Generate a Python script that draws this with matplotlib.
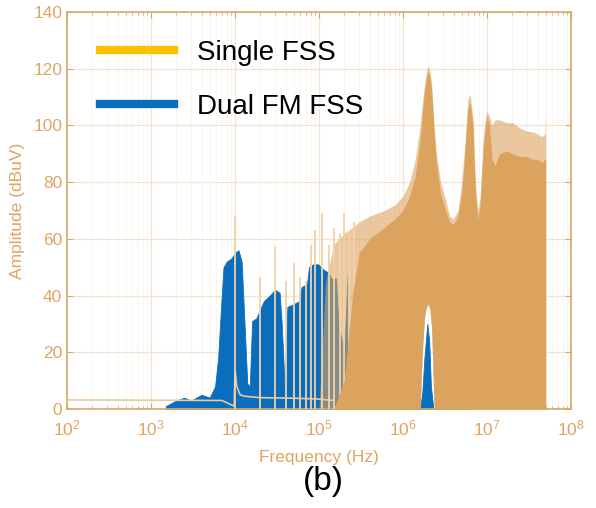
import matplotlib
matplotlib.use("Agg")
import matplotlib.pyplot as plt
from matplotlib.lines import Line2D
from matplotlib.ticker import FixedLocator, NullFormatter
import numpy as np

plt.rcParams['font.family'] = ['Liberation Sans', 'DejaVu Sans']

# ---- data ----
# Dual FM FSS, upper envelope of the spectrum
blue_freq = [1.5e3, 2e3, 2.5e3, 3e3, 4e3, 5e3, 5.8e3, 6.3e3, 6.8e3, 7.3e3,
             8e3, 9e3, 1.0e4, 1.1e4, 1.2e4, 1.3e4, 1.4e4, 1.5e4, 1.6e4, 1.8e4,
             2.2e4, 2.6e4, 3.0e4, 3.4e4, 3.6e4, 3.9e4, 4.2e4, 5.0e4, 5.8e4, 6.2e4,
             7.2e4, 7.6e4, 8.5e4, 9.8e4, 1.15e5, 1.3e5, 1.4e5, 1.6e5, 1.7e5, 2.0e5,
             2.2e5, 2.3e5, 2.6e5, 3.0e5, 3.3e5,
             1.6e6, 1.7e6, 1.8e6, 1.95e6, 2.05e6, 2.15e6, 2.3e6,
             5.8e6, 5.9e6, 6.0e6]
blue_amp = [1, 3, 4, 3, 5, 4, 8, 18, 35, 50,
            52, 53, 55, 56, 52, 30, 9, 8, 31, 32,
            38, 40, 42, 41, 30, 8, 36, 37, 38, 43,
            44, 50, 51, 51, 49, 48, 46, 46, 30, 20,
            48, 10, 5, 2, 0,
            0, 6, 18, 30, 24, 8, 0,
            0, 10, 0]

# Single FSS, low-frequency floor line
tan_floor_freq = [1e2, 7e3, 9e3, 9.8e3, 1.0e4, 1.05e4, 1.15e4, 1.3e4, 2e4, 5e4, 1e5, 1.5e5]
tan_floor_amp = [3.2, 3.0, 1.5, 1.0, 14, 8, 5, 4.5, 4, 3.8, 3.5, 3]

# Single FSS, switching harmonics
spike_freq = [1e4, 2e4, 3e4, 4e4, 5e4, 6e4, 7e4, 8e4, 9e4, 1.1e5,
              1.3e5, 1.5e5, 1.8e5, 2.0e5, 2.3e5, 2.6e5]
spike_amp = [68, 46.5, 57, 45, 51.5, 46.5, 45, 58, 63, 69,
             58, 64, 62, 69, 62, 66]

# Single FSS, dense part of the spectrum
tan_freq = [1.0e5, 1.2e5, 1.5e5, 2.0e5, 2.5e5, 3.0e5, 4.0e5, 6.0e5, 8.0e5, 1.0e6,
            1.2e6, 1.4e6, 1.6e6, 1.7e6, 1.8e6, 1.9e6, 2.0e6, 2.1e6, 2.2e6, 2.35e6,
            2.5e6, 2.8e6, 3.2e6, 3.6e6, 4.0e6, 4.5e6, 5.0e6, 5.5e6, 5.9e6, 6.3e6,
            6.8e6, 7.3e6, 7.8e6, 8.3e6, 9.0e6, 9.6e6, 1.0e7, 1.07e7, 1.15e7, 1.25e7,
            1.4e7, 1.7e7, 2.0e7, 2.5e7, 3.0e7, 3.5e7, 4.0e7, 4.5e7, 4.9e7, 5.0e7]
tan_env = [0, 45, 58, 62, 64, 66, 68, 70, 72, 75,
           80, 88, 100, 108, 114, 119, 121, 119, 114, 100,
           90, 80, 74, 68, 67, 70, 80, 95, 109, 111,
           103, 80, 70, 75, 95, 103, 105, 103, 100, 102,
           102, 101, 101, 99, 98, 97.7, 97, 96, 97, 105]
tan_solid = [0, 0, 0, 10, 40, 55, 60, 64, 67, 70,
             75, 82, 95, 104, 112, 117, 119, 117, 112, 97,
             87, 76, 70, 66, 65, 68, 76, 92, 106, 108,
             100, 75, 67, 72, 92, 100, 103, 100, 88, 86,
             90, 91, 90, 89, 89, 88, 88, 87, 88, 88]
tan_low = [0, 0, 0, 0, 0, 0, 0, 0, 0, 0,
           0, 0, 0, 20, 32, 36, 37, 35, 28, 0,
           0, 0, 0, 0, 0, 0, 0, 0, 0, 0,
           0, 0, 0, 0, 0, 0, 0, 0, 0, 0,
           0, 0, 0, 0, 0, 0, 0, 0, 0, 0]

tan = '#DCA35E'
blue = '#0A6EBD'
axcol = '#D7A968'
txtcol = '#E0A463'

fig = plt.figure(figsize=(5.96, 5.08), dpi=100)
ax = fig.add_axes([0.1124, 0.1949, 0.8456, 0.7815])

ax.fill_between(blue_freq, 0, blue_amp, color=blue, lw=0.6, zorder=2)
ax.fill_between(tan_freq, tan_low, tan_env, color=tan, alpha=0.6, lw=0, zorder=3)
ax.plot(tan_floor_freq, tan_floor_amp, color='#E8C9A0', lw=1.2, zorder=4)
ax.vlines(spike_freq, 0, spike_amp, color='#F0D2AA', lw=1.3, zorder=4)
ax.fill_between(tan_freq, tan_low, tan_solid, color=tan, lw=0, zorder=5)

ax.set_xscale('log')
ax.set_xlim(1e2, 1e8)
ax.set_ylim(0, 140)
ax.set_yticks(range(0, 141, 20))
ax.set_xticks([1e2, 1e3, 1e4, 1e5, 1e6, 1e7, 1e8])
minor = [m * 10.0 ** e for e in range(2, 8) for m in range(2, 10)]
ax.xaxis.set_minor_locator(FixedLocator(minor))
ax.xaxis.set_minor_formatter(NullFormatter())

ax.grid(True, which='major', color='#F3E4CF', lw=0.9, zorder=0)
ax.grid(True, which='minor', axis='x', color='#F3E6D6', lw=0.7, ls=':', zorder=0)
ax.set_axisbelow(True)

for s in ax.spines.values():
    s.set_color(axcol)
    s.set_linewidth(1.2)
ax.tick_params(which='both', direction='in', top=True, right=True, colors=axcol,
               labelcolor=txtcol, labelsize=12.5)
ax.tick_params(which='major', length=4)
ax.tick_params(which='minor', length=2)
ax.tick_params(axis='x', pad=7)

ax.set_xlabel('Frequency (Hz)', color=txtcol, fontsize=12.5, labelpad=8)
ax.set_ylabel('Amplitude (dBuV)', color=txtcol, fontsize=12.5, labelpad=6)

handles = [Line2D([], [], color='#FFC000', lw=6),
           Line2D([], [], color=blue, lw=6)]
ax.legend(handles, ['Single FSS', 'Dual FM FSS'], loc='upper left', frameon=False,
          fontsize=20, handlelength=2.65, handletextpad=0.85, labelspacing=1.0,
          bbox_to_anchor=(0.044, 0.957), borderaxespad=0)

fig.text(0.543, 0.053, '(b)', fontsize=24, ha='center', va='center', color='black')

fig.savefig('out.png', dpi=100)
